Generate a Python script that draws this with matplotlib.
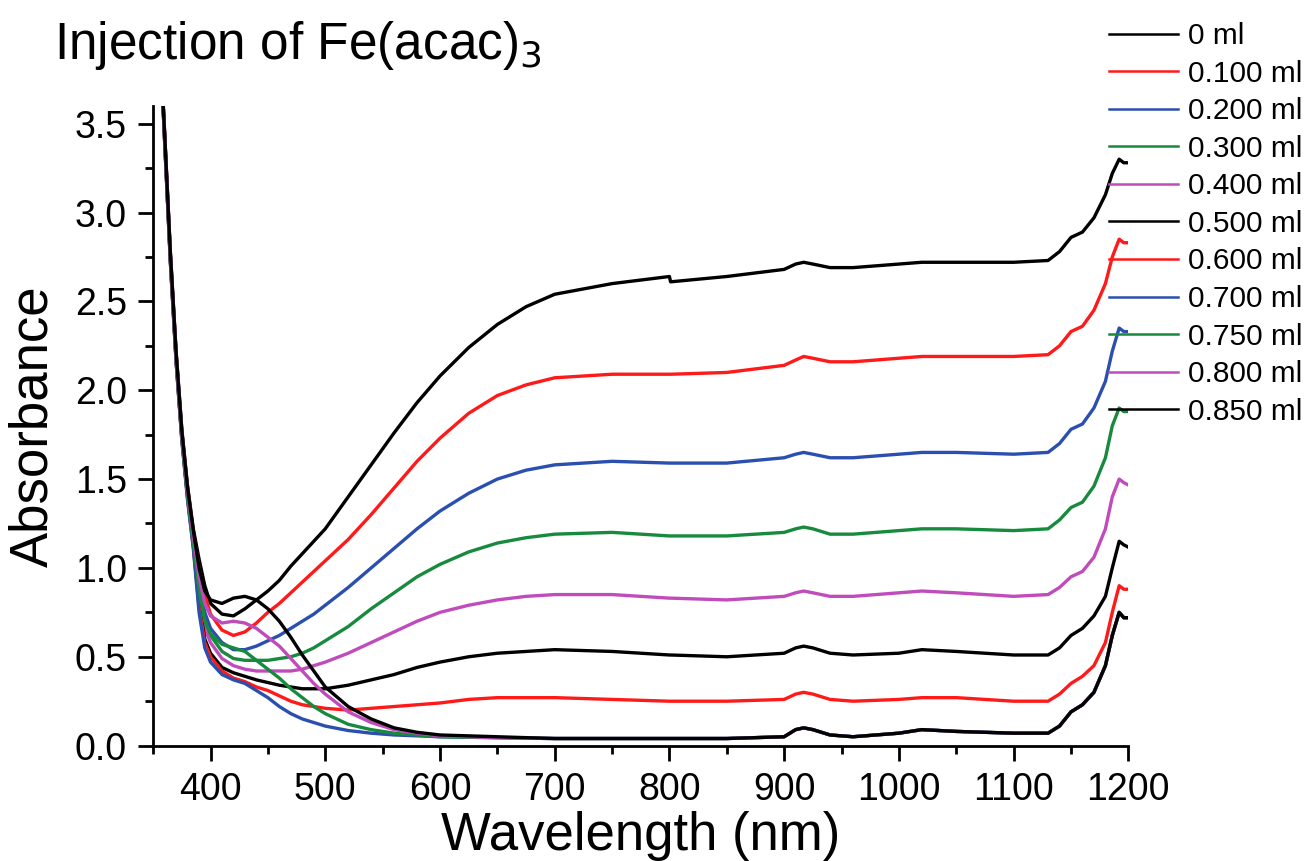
import numpy as np
import matplotlib.pyplot as plt
from matplotlib.ticker import MultipleLocator

plt.rcParams['font.family'] = ['Liberation Sans', 'DejaVu Sans']

# wavelength grid (nm) shared by all spectra
wavelength = [350, 355, 360, 365, 370, 375, 380, 385, 390, 395, 400, 410, 420, 430, 440,
              450, 460, 470, 480, 490, 500, 520, 540, 560, 580, 600, 625, 650, 675, 700,
              750, 800, 801, 850, 900, 910, 917, 925, 940, 960, 1000, 1020, 1050, 1100,
              1130, 1140, 1150, 1160, 1170, 1180, 1186, 1192, 1196, 1199]

# absorbance after each injection volume
abs_0 = [4.5, 4.1, 3.45, 2.78, 2.22, 1.78, 1.46, 1.22, 1.05, 0.90, 0.80, 0.74, 0.73, 0.77, 0.82,
         0.87, 0.93, 1.01, 1.08, 1.15, 1.22, 1.40, 1.58, 1.76, 1.93, 2.08, 2.24, 2.37, 2.47, 2.54,
         2.60, 2.64, 2.61, 2.64, 2.68, 2.71, 2.72, 2.71, 2.69, 2.69, 2.71, 2.72, 2.72, 2.72,
         2.73, 2.78, 2.86, 2.89, 2.97, 3.10, 3.22, 3.30, 3.28, 3.28]
abs_100 = [4.5, 4.1, 3.45, 2.77, 2.21, 1.77, 1.45, 1.20, 1.00, 0.85, 0.74, 0.65, 0.62, 0.64, 0.69,
           0.75, 0.80, 0.86, 0.92, 0.98, 1.04, 1.16, 1.30, 1.45, 1.60, 1.73, 1.87, 1.97, 2.03, 2.07,
           2.09, 2.09, 2.09, 2.10, 2.14, 2.17, 2.19, 2.18, 2.16, 2.16, 2.18, 2.19, 2.19, 2.19,
           2.20, 2.25, 2.33, 2.36, 2.45, 2.60, 2.75, 2.85, 2.83, 2.83]
abs_200 = [4.5, 4.1, 3.44, 2.76, 2.20, 1.76, 1.43, 1.17, 0.92, 0.75, 0.66, 0.58, 0.54, 0.54, 0.56,
           0.59, 0.62, 0.66, 0.70, 0.74, 0.79, 0.89, 1.00, 1.11, 1.22, 1.32, 1.42, 1.50, 1.55, 1.58,
           1.60, 1.59, 1.59, 1.59, 1.62, 1.64, 1.65, 1.64, 1.62, 1.62, 1.64, 1.65, 1.65, 1.64,
           1.65, 1.70, 1.78, 1.81, 1.90, 2.05, 2.22, 2.35, 2.33, 2.33]
abs_300 = [4.5, 4.1, 3.43, 2.75, 2.19, 1.75, 1.42, 1.16, 0.88, 0.70, 0.62, 0.53, 0.49, 0.48, 0.48,
           0.48, 0.49, 0.50, 0.52, 0.55, 0.59, 0.67, 0.77, 0.86, 0.95, 1.02, 1.09, 1.14, 1.17, 1.19,
           1.20, 1.18, 1.18, 1.18, 1.20, 1.22, 1.23, 1.22, 1.19, 1.19, 1.21, 1.22, 1.22, 1.21,
           1.22, 1.27, 1.34, 1.37, 1.46, 1.62, 1.80, 1.90, 1.88, 1.88]
abs_400 = [4.5, 4.1, 3.42, 2.74, 2.18, 1.74, 1.41, 1.15, 0.85, 0.66, 0.58, 0.49, 0.45, 0.43, 0.42,
           0.42, 0.42, 0.42, 0.43, 0.45, 0.47, 0.52, 0.58, 0.64, 0.70, 0.75, 0.79, 0.82, 0.84, 0.85,
           0.85, 0.83, 0.83, 0.82, 0.84, 0.86, 0.87, 0.86, 0.84, 0.84, 0.86, 0.87, 0.86, 0.84,
           0.85, 0.89, 0.95, 0.98, 1.06, 1.22, 1.40, 1.50, 1.48, 1.47]
abs_500 = [4.5, 4.1, 3.41, 2.73, 2.17, 1.73, 1.40, 1.13, 0.80, 0.60, 0.52, 0.44, 0.41, 0.39, 0.37,
           0.355, 0.34, 0.33, 0.32, 0.32, 0.32, 0.34, 0.37, 0.40, 0.44, 0.47, 0.50, 0.52, 0.53, 0.54,
           0.53, 0.51, 0.51, 0.50, 0.52, 0.55, 0.56, 0.55, 0.52, 0.51, 0.52, 0.54, 0.53, 0.51,
           0.51, 0.55, 0.62, 0.66, 0.73, 0.84, 1.00, 1.15, 1.13, 1.12]
abs_600 = [4.5, 4.1, 3.40, 2.72, 2.16, 1.72, 1.39, 1.12, 0.78, 0.58, 0.50, 0.42, 0.38, 0.36, 0.33,
           0.31, 0.28, 0.25, 0.23, 0.22, 0.21, 0.20, 0.21, 0.22, 0.23, 0.24, 0.26, 0.27, 0.27, 0.27,
           0.26, 0.25, 0.25, 0.25, 0.26, 0.29, 0.30, 0.29, 0.26, 0.25, 0.26, 0.27, 0.27, 0.25,
           0.25, 0.29, 0.35, 0.39, 0.45, 0.58, 0.75, 0.90, 0.88, 0.88]
abs_700 = [4.5, 4.1, 3.40, 2.72, 2.16, 1.72, 1.38, 1.11, 0.75, 0.55, 0.47, 0.40, 0.37, 0.35, 0.31,
           0.27, 0.22, 0.18, 0.15, 0.13, 0.11, 0.085, 0.07, 0.06, 0.055, 0.05, 0.047, 0.045, 0.042, 0.04,
           0.04, 0.04, 0.04, 0.04, 0.05, 0.09, 0.10, 0.09, 0.06, 0.05, 0.07, 0.09, 0.08, 0.07,
           0.07, 0.11, 0.19, 0.23, 0.30, 0.45, 0.62, 0.75, 0.72, 0.72]
abs_750 = [4.5, 4.1, 3.41, 2.73, 2.17, 1.73, 1.40, 1.14, 0.88, 0.70, 0.63, 0.57, 0.55, 0.53, 0.48,
           0.43, 0.38, 0.32, 0.27, 0.22, 0.18, 0.12, 0.09, 0.07, 0.06, 0.05, 0.047, 0.045, 0.042, 0.04,
           0.04, 0.04, 0.04, 0.04, 0.05, 0.09, 0.10, 0.09, 0.06, 0.05, 0.07, 0.09, 0.08, 0.07,
           0.07, 0.11, 0.19, 0.23, 0.30, 0.45, 0.62, 0.75, 0.72, 0.72]
abs_800 = [4.5, 4.1, 3.42, 2.75, 2.19, 1.75, 1.43, 1.18, 0.95, 0.80, 0.73, 0.69, 0.70, 0.69, 0.66,
           0.61, 0.56, 0.49, 0.42, 0.35, 0.29, 0.19, 0.13, 0.09, 0.07, 0.055, 0.05, 0.045, 0.042, 0.04,
           0.04, 0.04, 0.04, 0.04, 0.05, 0.09, 0.10, 0.09, 0.06, 0.05, 0.07, 0.09, 0.08, 0.07,
           0.07, 0.11, 0.19, 0.23, 0.30, 0.45, 0.62, 0.75, 0.72, 0.72]
abs_850 = [4.5, 4.1, 3.44, 2.77, 2.21, 1.77, 1.45, 1.21, 1.00, 0.87, 0.82, 0.80, 0.83, 0.84, 0.82,
           0.77, 0.70, 0.61, 0.51, 0.42, 0.33, 0.22, 0.15, 0.10, 0.075, 0.06, 0.055, 0.05, 0.045, 0.04,
           0.04, 0.04, 0.04, 0.04, 0.05, 0.09, 0.10, 0.09, 0.06, 0.05, 0.07, 0.09, 0.08, 0.07,
           0.07, 0.11, 0.19, 0.23, 0.30, 0.45, 0.62, 0.75, 0.72, 0.72]

spectra = [abs_0, abs_100, abs_200, abs_300, abs_400, abs_500,
           abs_600, abs_700, abs_750, abs_800, abs_850]
labels = ['0 ml', '0.100 ml', '0.200 ml', '0.300 ml', '0.400 ml', '0.500 ml',
          '0.600 ml', '0.700 ml', '0.750 ml', '0.800 ml', '0.850 ml']
palette = ['#000000', '#ff1a1a', '#2b4fae', '#178a3e', '#c04cbc']
colors = [palette[i % 5] for i in range(len(spectra))]

fig = plt.figure(figsize=(13.09, 8.61), dpi=100)
ax = fig.add_axes([0.117, 0.134, 0.745, 0.743])

for y, lab, c in zip(spectra, labels, colors):
    ax.plot(wavelength, y, color=c, lw=2.4, label=lab)

ax.set_xlim(350, 1200)
ax.set_ylim(0, 3.6)
ax.xaxis.set_major_locator(MultipleLocator(100))
ax.xaxis.set_minor_locator(MultipleLocator(50))
ax.yaxis.set_major_locator(MultipleLocator(0.5))
ax.yaxis.set_minor_locator(MultipleLocator(0.25))
ax.set_xticks([400, 500, 600, 700, 800, 900, 1000, 1100, 1200])
ax.set_yticks([0, 0.5, 1.0, 1.5, 2.0, 2.5, 3.0, 3.5])
ax.yaxis.set_major_formatter(plt.FormatStrFormatter('%.1f'))

for side in ['top', 'right']:
    ax.spines[side].set_visible(False)
for side in ['left', 'bottom']:
    ax.spines[side].set_linewidth(2)
ax.tick_params(which='major', direction='out', length=11, width=2, labelsize=27, pad=8)
ax.tick_params(which='minor', direction='out', length=6, width=2)

ax.set_xlabel('Wavelength (nm)', fontsize=38, labelpad=2)
ax.set_ylabel('Absorbance', fontsize=38, labelpad=12)

fig.text(0.041, 0.932, 'Injection of Fe(acac)$_3$', fontsize=37, ha='left', va='baseline')

# legend sits right of the plot, above the curve ends
leg = ax.legend(loc='upper left', bbox_to_anchor=(0.980, 1.131), frameon=False,
                fontsize=21.5, handlelength=2.3, handletextpad=0.35, labelspacing=0.32,
                borderaxespad=0, borderpad=0)
for line in leg.get_lines():
    line.set_linewidth(1.8)

fig.savefig('out.png', dpi=100)
